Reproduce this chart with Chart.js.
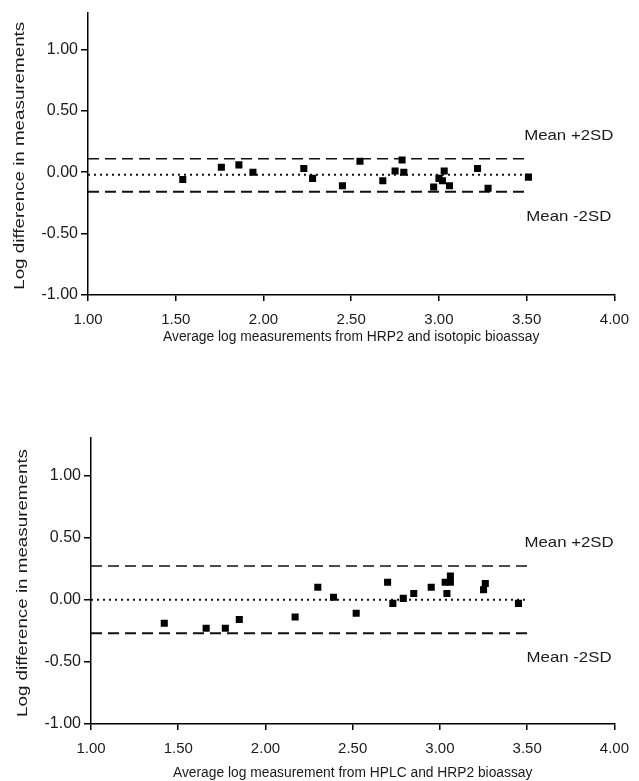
<!DOCTYPE html>
<html><head><meta charset="utf-8">
<script src="https://cdn.jsdelivr.net/npm/chart.js@4"></script>
<style>
html,body{margin:0;padding:0;background:#fff;width:639px;height:781px;overflow:hidden}
.box{position:absolute;left:0;width:639px}
#b1{top:0;height:350px}
#b2{top:400px;height:381px}
</style></head><body>
<div class="box" id="b1"><canvas id="c1"></canvas></div>
<div class="box" id="b2"><canvas id="c2"></canvas></div>
<script>
// tick values
const xTicks = [1.0, 1.5, 2.0, 2.5, 3.0, 3.5, 4.0];
const yTicks = [-1.0, -0.5, 0.0, 0.5, 1.0];

// Chart 1: HRP2 vs isotopic bioassay
const isoX = [1.54, 1.76, 1.86, 1.94, 2.23, 2.28, 2.45, 2.55, 2.68, 2.75, 2.79, 2.80, 2.97, 3.00, 3.02, 3.03, 3.06, 3.22, 3.28, 3.51];
const isoY = [-0.06, 0.04, 0.06, 0.00, 0.03, -0.05, -0.11, 0.09, -0.07, 0.01, 0.10, 0.00, -0.12, -0.05, -0.07, 0.01, -0.11, 0.03, -0.13, -0.04];
const isoUpper = 0.11, isoMean = -0.02, isoLower = -0.16;

// Chart 2: HPLC vs HRP2 bioassay
const hplcX = [1.42, 1.66, 1.77, 1.85, 2.17, 2.30, 2.39, 2.52, 2.70, 2.73, 2.79, 2.85, 2.95, 3.03, 3.06, 3.06, 3.04, 3.25, 3.26, 3.45];
const hplcY = [-0.19, -0.23, -0.23, -0.16, -0.14, 0.10, 0.02, -0.11, 0.14, -0.03, 0.01, 0.05, 0.10, 0.14, 0.14, 0.19, 0.05, 0.08, 0.13, -0.03];
const hplcUpper = 0.27, hplcMean = 0.00, hplcLower = -0.27;

// reference line extent
const lineStart = 1.0, lineEnd = 3.5;
const labelUpper = 'Mean +2SD', labelLower = 'Mean -2SD';
const yTitle = 'Log difference in measurements';

const FONT = "'Liberation Sans', Arial, sans-serif";
const TXT = '#1a1a1a';

const meanLabels = {
  id: 'meanLabels',
  afterDatasetsDraw(chart, args, o) {
    const {ctx, scales: {x, y}} = chart;
    const cx = x.getPixelForValue(o.xVal);
    const put = (t, py) => {
      ctx.save();
      ctx.font = '15px ' + FONT;
      ctx.fillStyle = TXT;
      ctx.textAlign = 'center';
      ctx.textBaseline = 'middle';
      ctx.translate(cx, py);
      ctx.scale(1.12, 1);
      ctx.fillText(t, 0, 0);
      ctx.restore();
    };
    put(labelUpper, y.getPixelForValue(o.upper) - o.dUp);
    put(labelLower, y.getPixelForValue(o.lower) + o.dDown);
  }
};

const yTitlePlugin = {
  id: 'yTitleDraw',
  afterDraw(chart, args, o) {
    const {ctx, chartArea} = chart;
    const ys = chart.scales.y;
    ctx.save();
    ctx.font = o.size + 'px ' + FONT;
    ctx.fillStyle = TXT;
    ctx.textAlign = 'center';
    ctx.textBaseline = 'middle';
    const w = ctx.measureText(yTitle).width;
    ctx.translate(ys.left + o.dx, (chartArea.top + chartArea.bottom) / 2 + o.dy);
    ctx.rotate(-Math.PI / 2);
    ctx.scale(o.len / w, 1);
    ctx.fillText(yTitle, 0, 0);
    ctx.restore();
  }
};

function refLine(v, dash, w) {
  return {
    type: 'line',
    data: [{x: lineStart, y: v}, {x: lineEnd, y: v}],
    borderColor: '#111', borderWidth: w, borderDash: dash,
    pointRadius: 0, fill: false, order: 2, tension: 0
  };
}

function make(id, xs, ys, up, mean, low, xTitle, cfg) {
  const pts = xs.map((v, i) => ({x: v, y: ys[i]}));
  return new Chart(document.getElementById(id), {
    type: 'scatter',
    data: {
      datasets: [
        {data: pts, pointStyle: 'rect', pointRadius: 5, backgroundColor: '#000', borderWidth: 0, order: 0},
        refLine(up, [11, 6], 1.5),
        refLine(mean, [2, 4], 2),
        refLine(low, [11, 6], 2)
      ]
    },
    options: {
      responsive: true, maintainAspectRatio: false, animation: false,
      layout: {padding: cfg.pad},
      plugins: {legend: {display: false}, tooltip: {enabled: false},
        meanLabels: {xVal: 3.74, upper: up, lower: low, dUp: cfg.dUp, dDown: cfg.dDown},
        yTitleDraw: {size: 14, len: 268, dx: 8, dy: 2}},
      scales: {
        x: {
          type: 'linear', min: 1, max: 4,
          afterBuildTicks: s => { s.ticks = xTicks.map(v => ({value: v})); },
          afterFit: s => { s.height = cfg.xH; },
          ticks: {callback: v => v.toFixed(2), color: TXT, font: {family: FONT, size: 15}, padding: cfg.xTickPad, maxRotation: 0, autoSkip: false},
          grid: {drawOnChartArea: false, drawTicks: true, tickLength: 6, color: '#000', lineWidth: 1.5},
          border: {display: true, color: '#000', width: 1.5},
          title: {display: true, text: xTitle, color: TXT, font: {family: FONT, size: 13.8}, padding: {top: 0, bottom: 0}}
        },
        y: {
          type: 'linear', min: -1, max: 1.3,
          afterBuildTicks: s => { s.ticks = yTicks.map(v => ({value: v})); },
          afterFit: s => { s.width = cfg.yW; },
          ticks: {callback: v => v.toFixed(2), color: TXT, font: {family: FONT, size: 16}, padding: 3, autoSkip: false},
          grid: {drawOnChartArea: false, drawTicks: true, tickLength: 7, color: '#000', lineWidth: 1.5},
          border: {display: true, color: '#000', width: 1.5},
          title: {display: false}
        }
      }
    },
    plugins: [meanLabels, yTitlePlugin]
  });
}

make('c1', isoX, isoY, isoUpper, isoMean, isoLower,
  'Average log measurements from HRP2 and isotopic bioassay',
  {pad: {left: 12, right: 19, top: 12, bottom: 5}, xH: 50, yW: 76, xTickPad: 10, dUp: 23, dDown: 25});
make('c2', hplcX, hplcY, hplcUpper, hplcMean, hplcLower,
  'Average log measurement from HPLC and HRP2 bioassay',
  {pad: {left: 15, right: 16, top: 38, bottom: 0}, xH: 57, yW: 76, xTickPad: 10, dUp: 23, dDown: 25});
</script>
</body></html>
